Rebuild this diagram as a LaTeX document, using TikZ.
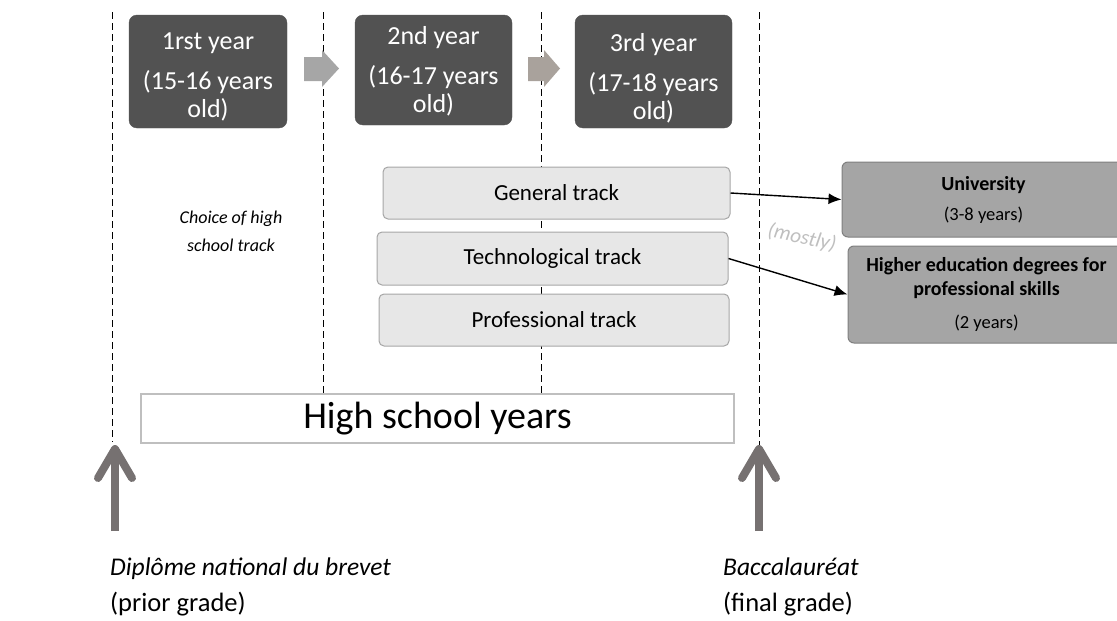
\documentclass[tikz,border=0pt]{standalone}
\usepackage{fontspec}
\setmainfont{Carlito}
\usetikzlibrary{arrows.meta,calc}
\definecolor{darkbox}{HTML}{525252}
\definecolor{blockarrow}{HTML}{A6A6A6}
\definecolor{trackfill}{HTML}{E7E7E7}
\definecolor{trackline}{HTML}{A6A6A6}
\definecolor{highfill}{HTML}{A5A5A5}
\definecolor{highline}{HTML}{7F7F7F}
\definecolor{hsline}{HTML}{BFBFBF}
\definecolor{uparrow}{HTML}{767171}
\definecolor{mostlycol}{HTML}{BFBFBF}
\tikzset{
  yearbox/.style={fill=darkbox, draw=darkbox, rounded corners=8pt, minimum width=158pt, inner sep=0pt},
  yeartext/.style={text=white, align=center, font=\fontsize{26}{28}\selectfont, inner sep=0pt, anchor=north},
  trackbox/.style={fill=trackfill, draw=trackline, line width=1pt, rounded corners=5pt, inner sep=0pt, font=\fontsize{23}{26}\selectfont},
  highbox/.style={fill=highfill, draw=highline, line width=1pt, rounded corners=6pt, inner sep=0pt, align=center, font=\fontsize{18.5}{24}\selectfont},
  guide/.style={dash pattern=on 7pt off 4pt, line width=0.9pt},
  blockarr/.style={fill=blockarrow, draw=none},
  thickup/.style={draw=uparrow, line width=8pt, line join=round},
  flowarrow/.style={-{Latex[length=13pt,width=11pt]}, line width=1.4pt},
}
\begin{document}
\begin{tikzpicture}[x=1pt,y=-1pt]
\useasboundingbox (0,0) rectangle (1117,621);
\clip (0,0) rectangle (1117,621);
% dashed guide lines
\draw[guide] (112,12) -- (112,442);
\draw[guide] (323,12) -- (323,394);
\draw[guide] (541,12) -- (541,394);
\draw[guide] (759,12) -- (759,445);
% year boxes
\node[yearbox, minimum width=158pt, minimum height=113pt] (y1) at (208,71.5) {};
\node[yearbox, minimum width=157pt, minimum height=110pt] (y2) at (433.5,70) {};
\node[yearbox, minimum width=157pt, minimum height=113pt] (y3) at (653.5,71.5) {};
\node[yeartext] (t1) at (208,33) {1rst year\\[12pt](15-16 years\\old)};
\node[yeartext] (t2) at (433.5,26) {2nd year\\[12pt](16-17 years\\old)};
\node[yeartext] (t3) at (653.5,33) {3rd year\\[12pt](17-18 years\\old)};
% block arrows
\fill[blockarr] (304,57) -- (322,57) -- (322,50) -- (339,68.5) -- (322,87) -- (322,81) -- (304,81) -- cycle;
\fill[blockarr, fill=blockarrow!90!brown] (528,57) -- (544,57) -- (544,50) -- (560,68.5) -- (544,87) -- (544,81) -- (528,81) -- cycle;
% tracks
\node[trackbox, minimum width=347pt, minimum height=52pt] (gen) at (556.5,193) {General track};
\node[trackbox, minimum width=351pt, minimum height=53pt] (tech) at (552.5,258.5) {Technological track};
\node[trackbox, minimum width=350pt, minimum height=52pt] (prof) at (554,320) {Professional track};
% choice text
\node[align=center, font=\fontsize{18}{28}\selectfont\itshape] (choice) at (231,231) {Choice of high\\school track};
% higher education boxes
\node[highbox, minimum width=283pt, minimum height=75pt] (uni) at (983.5,199.5) {{\fontsize{20}{24}\selectfont\bfseries University}\\[6pt](3-8 years)};
\node[highbox, minimum width=277pt, minimum height=97pt] (hed) at (986.5,294.5) {{\fontsize{20}{24}\selectfont\bfseries Higher education degrees for}\\{\fontsize{20}{24}\selectfont\bfseries professional skills}\\[9pt](2 years)};
\node[rotate=-12, text=mostlycol, font=\fontsize{21}{24}\selectfont\itshape] (mostly) at (802,238) {(mostly)};
\draw[flowarrow] (gen.east) -- (uni.west);
\draw[flowarrow] (tech.east) -- (hed.west);
% high school years
\node[draw=hsline, line width=2pt, fill=white, minimum width=593pt, minimum height=49pt, inner sep=0pt, font=\fontsize{38}{40}\selectfont] (hs) at (437.5,418.5) {High school years};
% up arrows
\coordinate (lb) at (115,531);
\coordinate (lt) at (115,449);
\coordinate (rb) at (759,531);
\coordinate (rt) at (759,449);
\draw[thickup] (lb) -- (lt);
\draw[thickup, line cap=round] ($(lt)+(-17,29)$) -- (lt) -- ($(lt)+(17,29)$);
\draw[thickup] (rb) -- (rt);
\draw[thickup, line cap=round] ($(rt)+(-17,29)$) -- (rt) -- ($(rt)+(17,29)$);
% bottom labels
\node[anchor=base west, inner sep=0pt, font=\fontsize{25.5}{30}\selectfont\itshape] (dnb) at (110,575) {Diplôme national du brevet};
\node[anchor=base west, inner sep=0pt, font=\fontsize{26.5}{30}\selectfont] (prior) at (110,611) {(prior grade)};
\node[anchor=base west, inner sep=0pt, font=\fontsize{25.5}{30}\selectfont\itshape] (bac) at (723,575) {Baccalauréat};
\node[anchor=base west, inner sep=0pt, font=\fontsize{26.5}{30}\selectfont] (final) at (723,611) {(final grade)};
\end{tikzpicture}
\end{document}
